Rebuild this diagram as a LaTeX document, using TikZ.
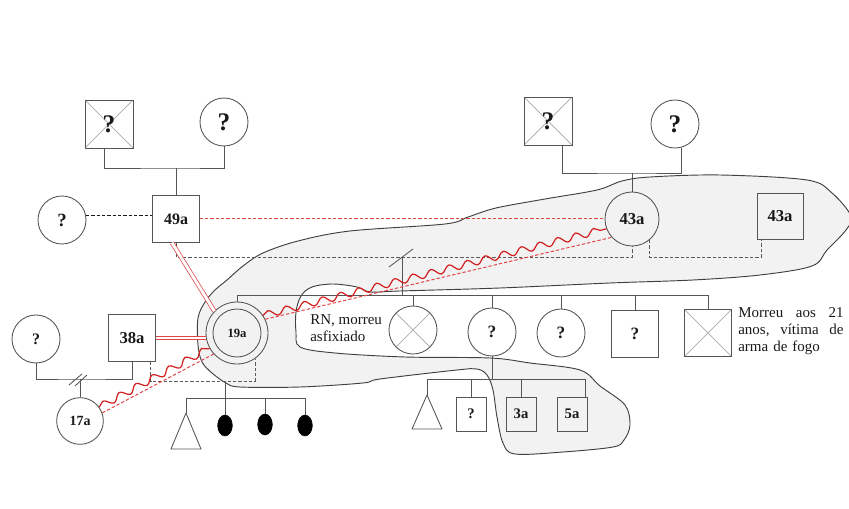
\documentclass[tikz,border=0pt]{standalone}
\usepackage{fontspec}
\setmainfont{Liberation Serif}
\usetikzlibrary{calc,shapes.geometric,decorations.pathmorphing}

\definecolor{lncol}{RGB}{85,85,85}
\definecolor{crosscol}{RGB}{180,180,180}
\definecolor{blobfill}{RGB}{242,242,242}
\definecolor{blobline}{RGB}{64,64,64}
\definecolor{hostred}{RGB}{210,30,30}
\definecolor{softred}{RGB}{225,70,70}
\definecolor{dashgray}{RGB}{90,90,90}
\definecolor{inkcol}{RGB}{25,25,25}

\tikzset{
  male/.style={draw=lncol, line width=0.65pt, rectangle, minimum size=#1, inner sep=0pt, text=inkcol},
  female/.style={draw=lncol, line width=0.65pt, circle, minimum size=#1, inner sep=0pt, text=inkcol},
  childbox/.style={draw=lncol, line width=0.65pt, rectangle, minimum width=22.5pt, minimum height=25.5pt, inner sep=0pt, text=inkcol},
  deceased/.style={path picture={\draw[crosscol, line width=0.65pt]
      (path picture bounding box.north west) -- (path picture bounding box.south east)
      (path picture bounding box.north east) -- (path picture bounding box.south west);}},
  lbl/.style={font=\bfseries\fontsize{#1}{#1}\selectfont},
  kin/.style={draw=lncol, line width=0.65pt},
  apart/.style={draw=dashgray, line width=0.65pt, dash pattern=on 2.5pt off 1.5pt},
  apartdark/.style={draw=inkcol, line width=0.65pt, dash pattern=on 2.5pt off 1.5pt},
  conflict/.style={draw=hostred, line width=0.9pt, decorate,
      decoration={snake, segment length=14pt, amplitude=2.6pt}},
  distant/.style={draw=softred, line width=0.75pt, dash pattern=on 2.5pt off 1.5pt},
  closebond/.style={draw=softred, line width=0.55pt, double=white, double distance=2.2pt},
  blob/.style={fill=blobfill, draw=blobline, line width=0.7pt},
  note/.style={font=\fontsize{11.25pt}{13pt}\selectfont, text=inkcol, inner sep=0pt, align=left},
}

\begin{document}
\begin{tikzpicture}[x=0.75pt, y=-0.75pt]
\useasboundingbox (0,0) rectangle (849,509);

% shaded household region
\draw[blob] plot[smooth cycle, tension=0.55] coordinates {
  (227,280) (243,266) (263,253) (298,241) (350,231) (445,224) (468,217)
  (496,208) (545,199) (597,190) (622,181) (650,177) (720,175) (807,180)
  (832,193) (851,216) (846,230) (827,250) (812,266) (760,275) (693,280)
  (610,283) (500,288) (400,291) (370,292) (357,287) (333,284) (312,287)
  (301,296) (296,312) (296,332) (300,347) (335,353) (405,357) (490,358)
  (530,363) (580,370) (600,386) (625,405) (630,425) (624,440) (613,447)
  (563,452) (515,454) (503,443) (497,417) (493,390) (487,375) (477,369)
  (457,370) (380,379) (363,383) (300,387) (240,387) (226,383) (212,373)
  (202,362) (198,345) (198,318) (205,302) (215,290)};

% grandparents, paternal side
\node[male=36pt, deceased, lbl=19pt] (gfL) at (109,124) {?};
\node[female=36pt, lbl=19pt] (gmL) at (224,122) {?};
\node[male=35pt, lbl=12pt] (p49) at (176,219) {49a};
\node[female=36pt, lbl=14pt] (q1) at (62,220) {?};

% grandparents, maternal side
\node[male=36pt, deceased, lbl=19pt] (gfR) at (548,121) {?};
\node[female=36pt, lbl=19pt] (gmR) at (675,124) {?};
\node[female=40.5pt, lbl=12.5pt] (p43c) at (632,219) {43a};
\node[male=34.5pt, lbl=12.5pt] (q43) at (780,216) {43a};

% index generation
\node[female=36pt, lbl=12pt] (q2) at (36,339) {?};
\node[male=35pt, lbl=12.5pt] (p38) at (132,338) {38a};
\node[female=35pt, lbl=10.5pt] (p17) at (80,421) {17a};
\node[female=46.5pt, lbl=9.5pt] (p19) at (237,333) {19a};
\node[female=36pt] (p19in) at (237,333) {};

\node[female=36pt, deceased] (s1) at (413,330) {};
\node[female=36pt, lbl=13pt] (s2) at (492,332) {?};
\node[female=36pt, lbl=13pt] (s3) at (561,333) {?};
\node[male=35pt, lbl=13pt] (s4) at (635,334) {?};
\node[male=35pt, deceased] (s5) at (708,333) {};

% children of 19a
\coordinate (c1top) at (186,413);
\node[draw=black, fill=black, ellipse, minimum width=11pt, minimum height=15.75pt, inner sep=0pt] (e1) at (225,425.5) {};
\node[draw=black, fill=black, ellipse, minimum width=11pt, minimum height=15.75pt, inner sep=0pt] (e2) at (265,424.5) {};
\node[draw=black, fill=black, ellipse, minimum width=11pt, minimum height=15.75pt, inner sep=0pt] (e3) at (305,425.5) {};

% children of the sister
\coordinate (k0) at (427,395);
\node[childbox, lbl=11pt] (k1) at (471,414) {?};
\node[childbox, lbl=11pt] (k2) at (521,414) {3a};
\node[childbox, lbl=11pt] (k3) at (572,414) {5a};

% notes
\node[note, anchor=north west] (rn) at (310,314) {RN, morreu\\asfixiado};
\node[note, anchor=north west, text width=79pt] (mor) at (738,307)
  {Morreu\hfill aos\hfill 21\\anos,\hfill vítima\hfill de\\arma de fogo};

% family lines
\coordinate (mL) at (176,168);
\draw[kin] ([xshift=-3.75pt]gfL.south) |- (mL) -| (gmL.south);
\draw[kin] (mL) -- (p49);
\draw[apartdark] (q1.10) -- (q1.10 -| p49.west);

\coordinate (mR) at (632,173);
\draw[kin] ([xshift=10.5pt]gfR.south) |- (mR) -| ([xshift=4.5pt]gmR.south);
\draw[kin] (mR) -- (p43c);

\coordinate (dP) at (402,257);
\coordinate (sibY) at (0,295);
\draw[apart] (p49.south) |- (dP) -| (p43c.south);
\draw[kin] (dP) -- (dP |- sibY);
\draw[kin] ($(dP)+(-13,10)$) -- ($(dP)+(11,-8)$);
\draw[kin] (p19.north) |- (s5.north |- sibY) -- (s5.north);
\foreach \n in {s1,s2,s3,s4} \draw[kin] (\n.north) -- (\n.north |- sibY);

\coordinate (m43) at (700,257);
\draw[apart] (p43c.-50) |- (m43) -| ([xshift=-14.25pt]q43.south);

\coordinate (mQ) at (80,379);
\draw[kin] (q2.south) |- (mQ) -| (p38.south);
\draw[kin] (mQ) -- (p17);
\draw[kin] ($(mQ)+(-11,6)$) -- ($(mQ)+(2,-5)$);
\draw[kin] ($(mQ)+(-5,7)$) -- ($(mQ)+(7,-4)$);

\coordinate (d19) at (225,381);
\coordinate (r19) at (225,398);
\draw[apart] ([xshift=-3.75pt]p38.south east) |- (d19) -| (p19.-55);
\draw[kin] (d19) -- (e1.north);
\draw[kin] (c1top) |- (e3.north |- r19) -- (e3.north);
\draw[kin] (e2.north) -- (e2.north |- r19);
\draw[kin, line join=round] (c1top) -- ++(15,36) -- ++(-30,0) -- cycle;

\coordinate (cY) at (0,379);
\coordinate (k3c) at ([xshift=-1.5pt]k3.north east);
\draw[kin] (s2.south) -- (s2.south |- cY);
\draw[kin] (k0) |- (k3c |- cY) -- (k3c);
\draw[kin] (k1.north) -- (k1.north |- cY);
\draw[kin] (k2.north) -- (k2.north |- cY);
\draw[kin, line join=round] (k0) -- ++(15,34) -- ++(-30,0) -- cycle;

% emotional bonds
\draw[distant] (p49.east) -- (p43c.west);
\draw[closebond] ($(p49.south)+(-4,0)$) -- (p19.136);
\draw[closebond] (p38.east) -- (p38.east -| p19.west);
\draw[conflict] (p19.34) -- (p43c.201);
\draw[distant] (p19.26) -- (p43c.222);
\draw[conflict] (p17.36) -- (p19.209);
\draw[distant] (p17.20) -- (p19.222);
\end{tikzpicture}
\end{document}
